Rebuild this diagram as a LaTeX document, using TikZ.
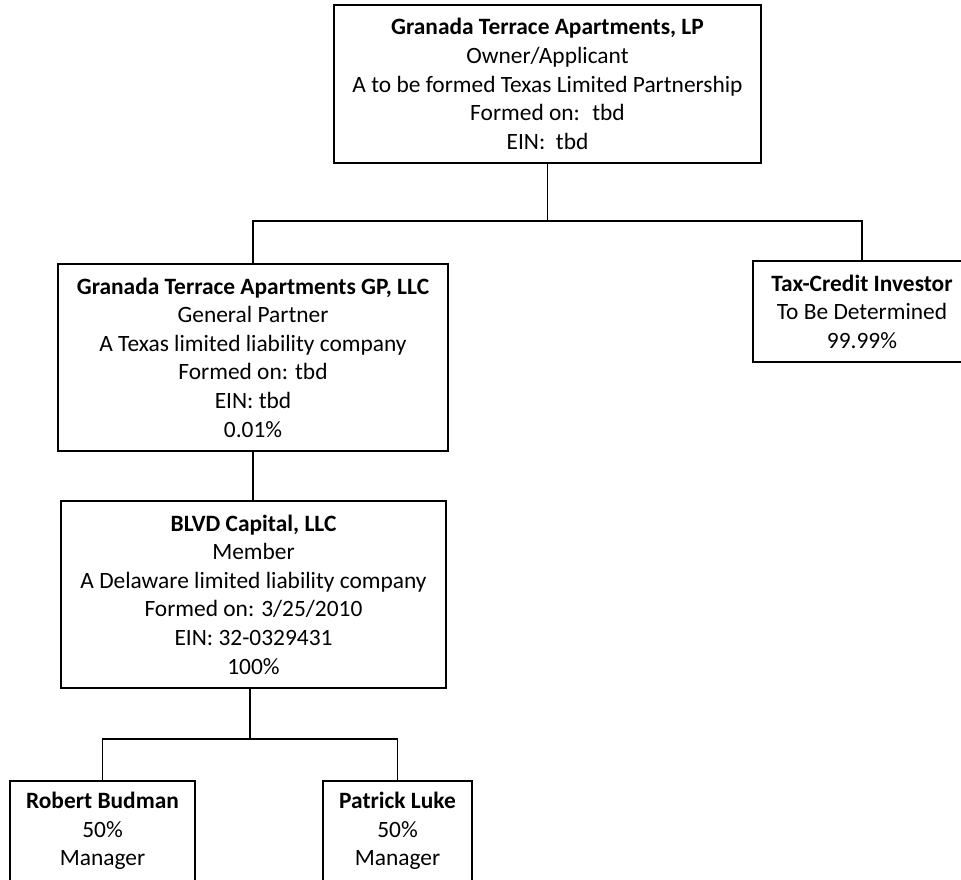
\documentclass[tikz,border=0pt]{standalone}
\usepackage{fontspec}
\setmainfont{Carlito}
\begin{document}
\begin{tikzpicture}[x=1pt,y=-1pt,
  box/.style={draw, line width=1.3pt, align=center, inner sep=0pt, font=\fontsize{23.4}{28.6}\selectfont},
  conn/.style={line width=1.3pt}]
\useasboundingbox (0,0) rectangle (961,879);
\clip (0,0) rectangle (961,879);
\node[box, minimum width=427pt, minimum height=158pt] (lp) at (547.5,84)
  {\textbf{Granada Terrace Apartments, LP}\\Owner/Applicant\\A to be formed Texas Limited Partnership\\Formed on:~ tbd\\EIN:~ tbd};
\node[box, minimum width=390pt, minimum height=187pt] (gp) at (253,357.5)
  {\textbf{Granada Terrace Apartments GP, LLC}\\General Partner\\A Texas limited liability company\\Formed on: tbd\\EIN: tbd\\0.01\%};
\node[box, minimum width=218pt, minimum height=101pt] (tax) at (862,311.5)
  {\textbf{Tax-Credit Investor}\\To Be Determined\\99.99\%};
\node[box, minimum width=385pt, minimum height=187pt] (blvd) at (253.5,594.5)
  {\textbf{BLVD Capital, LLC}\\Member\\A Delaware limited liability company\\Formed on: 3/25/2010\\EIN: 32-0329431\\100\%};
\node[box, minimum width=185pt, minimum height=100pt] (rb) at (102.5,831)
  {\textbf{Robert Budman}\\50\%\\Manager};
\node[box, minimum width=149pt, minimum height=100pt] (pl) at (397.5,831)
  {\textbf{Patrick Luke}\\50\%\\Manager};
\coordinate (bus1) at (547.5,221);
\coordinate (bus2) at (250,739);
\draw[conn] (lp.south) -- (bus1);
\draw[conn] (gp.north) |- (bus1);
\draw[conn] (tax.north) |- (bus1);
\draw[conn] (gp.south) -- (gp.south |- blvd.north);
\draw[conn] (blvd.south -| bus2) -- (bus2);
\draw[conn] (rb.north) |- (bus2);
\draw[conn] (pl.north) |- (bus2);
\end{tikzpicture}
\end{document}
